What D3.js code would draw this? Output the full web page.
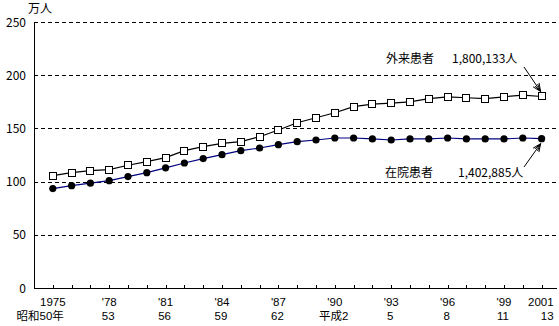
<!DOCTYPE html>
<html>
<head>
<meta charset="utf-8">
<script src="https://cdn.jsdelivr.net/npm/d3@7"></script>
<style>
  body { margin: 0; background: #fff; }
  text { font-family: "Noto Sans CJK JP", "DejaVu Sans", sans-serif; font-size: 12px; fill: #000; }
  text.xlab { font-family: "Liberation Sans", "Noto Sans CJK JP", sans-serif; font-size: 11.5px; }
</style>
</head>
<body>
<div id="chart"></div>
<script>
const years = d3.range(1975, 2002);
// 外来患者 (万人)
const outpatients = [105.6, 108.4, 110.3, 111.3, 115.4, 118.8, 122.5, 129.1, 132.8, 136.0,
  137.5, 142.2, 148.5, 155.3, 160.0, 164.7, 170.4, 172.9, 173.8, 175.0,
  177.9, 179.7, 178.8, 177.9, 179.7, 181.3, 180.0];
// 在院患者 (万人)
const inpatients = [93.4, 96.2, 98.5, 100.9, 104.7, 108.4, 112.9, 117.5, 121.6, 125.3,
  129.1, 131.6, 134.7, 137.5, 139.1, 141.0, 141.0, 140.1, 139.1, 140.1,
  140.1, 141.0, 140.1, 140.1, 140.1, 141.0, 140.3];
const yTicks = [0, 50, 100, 150, 200, 250];
const labelYears = [1975, 1978, 1981, 1984, 1987, 1990, 1993, 1996, 1999, 2001];
const labelRow1 = ["1975", "'78", "'81", "'84", "'87", "'90", "'93", "'96", "'99", "2001"];
const labelRow2 = ["昭和50年", "53", "56", "59", "62", "平成2", "5", "8", "11", "13"];

const W = 559, H = 326;
const margin = { top: 22, left: 34, right: 2, bottom: 38 };

const svg = d3.select("#chart").append("svg")
  .attr("width", W).attr("height", H);

const x = d3.scaleLinear()
  .domain([1974, 2002])
  .range([margin.left, margin.left + 28 * 18.8]);

const y = d3.scaleLinear()
  .domain([0, 250])
  .range([H - margin.bottom, margin.top]);

const xEnd = W - margin.right;

// grid lines
svg.append("g")
  .selectAll("line")
  .data(yTicks.filter(d => d > 0))
  .enter()
  .append("line")
  .attr("x1", margin.left).attr("x2", xEnd)
  .attr("y1", d => Math.round(y(d)) + 0.5).attr("y2", d => Math.round(y(d)) + 0.5)
  .attr("stroke", "#000")
  .attr("stroke-dasharray", "4,3");

// y tick labels
svg.append("g")
  .selectAll("text")
  .data(yTicks)
  .enter()
  .append("text")
  .attr("x", 26)
  .attr("y", d => y(d) + 4.5)
  .attr("text-anchor", "end")
  .text(d => d);

svg.append("text").attr("x", 28).attr("y", 13).text("万人");

// axes
svg.append("line")
  .attr("x1", margin.left + 0.5).attr("x2", margin.left + 0.5)
  .attr("y1", y(250)).attr("y2", y(0))
  .attr("stroke", "#000");
svg.append("line")
  .attr("x1", margin.left).attr("x2", xEnd)
  .attr("y1", Math.round(y(0)) + 0.5).attr("y2", Math.round(y(0)) + 0.5)
  .attr("stroke", "#000");

// x ticks (inward)
svg.append("g")
  .selectAll("line")
  .data(years.concat([2002]))
  .enter()
  .append("line")
  .attr("x1", d => Math.round(x(d)) + 0.5).attr("x2", d => Math.round(x(d)) + 0.5)
  .attr("y1", Math.round(y(0)) - 3).attr("y2", Math.round(y(0)))
  .attr("stroke", "#000");

// x labels
svg.append("g")
  .selectAll("text")
  .data(labelYears)
  .enter()
  .append("text")
  .attr("class", "xlab")
  .attr("x", (d, i) => i === labelYears.length - 1 ? x(d) + 12 : x(d))
  .attr("y", 306)
  .attr("text-anchor", (d, i) => i === labelYears.length - 1 ? "end" : "middle")
  .text((d, i) => labelRow1[i]);

svg.append("g")
  .selectAll("text")
  .data(labelYears)
  .enter()
  .append("text")
  .attr("class", "xlab")
  .attr("x", (d, i) => i === 0 ? x(d) + 11 : (i === labelYears.length - 1 ? x(d) + 12 : x(d) - 1))
  .attr("y", 320)
  .attr("text-anchor", (d, i) => i === 0 || i === labelYears.length - 1 ? "end" : "middle")
  .text((d, i) => labelRow2[i]);

// lines
const line = d3.line()
  .x((d, i) => x(years[i]))
  .y(d => y(d));

svg.append("path")
  .datum(inpatients)
  .attr("d", line)
  .attr("fill", "none")
  .attr("stroke", "#000080")
  .attr("stroke-width", 1.2);

svg.append("path")
  .datum(outpatients)
  .attr("d", line)
  .attr("fill", "none")
  .attr("stroke", "#000")
  .attr("stroke-width", 1.2);

svg.append("g")
  .selectAll("circle")
  .data(inpatients)
  .enter()
  .append("circle")
  .attr("cx", (d, i) => x(years[i]))
  .attr("cy", d => y(d))
  .attr("r", 3.6)
  .attr("fill", "#000");

svg.append("g")
  .selectAll("rect")
  .data(outpatients)
  .enter()
  .append("rect")
  .attr("x", (d, i) => Math.round(x(years[i])) - 3.5)
  .attr("y", d => Math.round(y(d)) - 3.5)
  .attr("width", 7)
  .attr("height", 7)
  .attr("fill", "#fff")
  .attr("stroke", "#000");

// annotations
svg.append("defs").append("marker")
  .attr("id", "arr")
  .attr("viewBox", "0 0 10 10")
  .attr("refX", 9).attr("refY", 5)
  .attr("markerWidth", 9).attr("markerHeight", 9)
  .attr("markerUnits", "userSpaceOnUse")
  .attr("orient", "auto")
  .append("path")
  .attr("d", "M0,1 L9,5 L0,9 M0,3 L9,5 M0,7 L9,5")
  .attr("fill", "none")
  .attr("stroke", "#000");

const last = years.length - 1;

svg.append("text").attr("x", 386).attr("y", 63).text("外来患者");
svg.append("text").attr("x", 452).attr("y", 63).text("1,800,133人");
svg.append("line")
  .attr("x1", 524).attr("y1", 67)
  .attr("x2", x(years[last]) - 1).attr("y2", y(outpatients[last]) - 5)
  .attr("stroke", "#000")
  .attr("marker-end", "url(#arr)");

svg.append("text").attr("x", 385).attr("y", 177).text("在院患者");
svg.append("text").attr("x", 458).attr("y", 177).text("1,402,885人");
svg.append("line")
  .attr("x1", 524).attr("y1", 167)
  .attr("x2", x(years[last]) - 1).attr("y2", y(inpatients[last]) + 5)
  .attr("stroke", "#000")
  .attr("marker-end", "url(#arr)");
</script>
</body>
</html>
